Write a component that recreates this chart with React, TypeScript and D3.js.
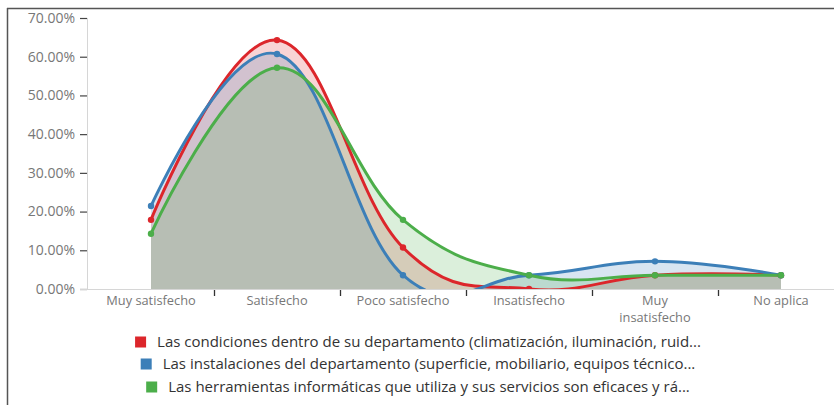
import React, { useLayoutEffect, useRef, useState } from "react";
import * as d3 from "d3";

const categories = [
  "Muy satisfecho",
  "Satisfecho",
  "Poco satisfecho",
  "Insatisfecho",
  "Muy insatisfecho",
  "No aplica",
];
const xTickLines = [
  ["Muy satisfecho"],
  ["Satisfecho"],
  ["Poco satisfecho"],
  ["Insatisfecho"],
  ["Muy", "insatisfecho"],
  ["No aplica"],
];
const yTicks = [0, 0.1, 0.2, 0.3, 0.4, 0.5, 0.6, 0.7];

const seriesNames = [
  "Las condiciones dentro de su departamento (climatización, iluminación, ruid...",
  "Las instalaciones del departamento (superficie, mobiliario, equipos técnico...",
  "Las herramientas informáticas que utiliza y sus servicios son eficaces y rá...",
];
const seriesColors = ["#dc262b", "#3c7fb8", "#4cae4a"];

const redValues = [0.1786, 0.6429, 0.1071, 0.0, 0.0357, 0.0357];
const blueValues = [0.2143, 0.6071, 0.0357, 0.0357, 0.0714, 0.0357];
const greenValues = [0.1429, 0.5714, 0.1786, 0.0357, 0.0357, 0.0357];
const seriesValues = [redValues, blueValues, greenValues];

const FONT = "'Open Sans', sans-serif";

export default function App() {
  const left = 88;
  const right = 844;
  const top = 18;
  const bottom = 289;

  const x = d3.scaleBand<string>().domain(categories).range([left, right]).padding(0);
  const y = d3.scaleLinear().domain([0, 0.7]).range([bottom, top]);
  const cx = (c: string) => (x(c) as number) + x.bandwidth() / 2;
  const fmt = d3.format(".2%");

  const curve = d3.curveCardinal.tension(-0.2);
  const line = d3
    .line<number>()
    .x((_, i) => cx(categories[i]))
    .y((d) => y(d))
    .curve(curve);
  const area = d3
    .area<number>()
    .x((_, i) => cx(categories[i]))
    .y0(y(0))
    .y1((d) => y(d))
    .curve(curve);

  const legendY = [342, 364, 387];
  const legendCenter = 418;
  const textRefs = useRef<(SVGTextElement | null)[]>([]);
  const [widths, setWidths] = useState<number[]>([540, 530, 525]);
  useLayoutEffect(() => {
    const w = textRefs.current.map((el) => (el ? el.getComputedTextLength() : 500));
    setWidths(w);
  }, []);

  return (
    <svg
      width={834}
      height={405}
      style={{ position: "absolute", left: 0, top: 0, fontFamily: FONT }}
    >
      <defs>
        <clipPath id="plotclip">
          <rect x={left} y={top - 10} width={right - left} height={bottom - top + 10} />
        </clipPath>
      </defs>
      <rect x={0} y={0} width={834} height={405} fill="#fff" />
      {/* frame */}
      <line x1={7.5} x2={7.5} y1={8} y2={405} stroke="#555" strokeWidth={1.5} />
      <line x1={7} x2={834} y1={8.5} y2={8.5} stroke="#555" strokeWidth={1.5} />

      {/* y axis */}
      <line x1={87.5} x2={87.5} y1={top} y2={bottom} stroke="#d6d6d6" strokeWidth={1} />
      {yTicks.map((t) => (
        <g key={t}>
          <line x1={80} x2={87} y1={y(t) + 0.5} y2={y(t) + 0.5} stroke="#444" strokeWidth={1.2} />
          <text x={75} y={y(t)} dy="0.35em" textAnchor="end" fontSize={14} fill="#777">
            {fmt(t)}
          </text>
        </g>
      ))}

      {/* areas */}
      <g clipPath="url(#plotclip)">
        {seriesValues.map((vals, i) => (
          <path key={"a" + i} d={area(vals) || ""} fill={seriesColors[i]} fillOpacity={0.2} />
        ))}
        {seriesValues.map((vals, i) => (
          <path
            key={"l" + i}
            d={line(vals) || ""}
            fill="none"
            stroke={seriesColors[i]}
            strokeWidth={3}
          />
        ))}
        {seriesValues.map((vals, i) =>
          vals.map((v, j) => (
            <circle
              key={"p" + i + "-" + j}
              cx={cx(categories[j])}
              cy={y(v)}
              r={3.2}
              fill={seriesColors[i]}
            />
          ))
        )}
      </g>

      {/* x axis */}
      <line x1={80} x2={834} y1={bottom + 0.5} y2={bottom + 0.5} stroke="#d6d6d6" strokeWidth={1} />
      {categories.slice(1).map((c) => (
        <line
          key={"t" + c}
          x1={(x(c) as number) + 0.5}
          x2={(x(c) as number) + 0.5}
          y1={bottom + 1}
          y2={bottom + 7}
          stroke="#333"
          strokeWidth={1.3}
        />
      ))}
      {categories.map((c, i) =>
        xTickLines[i].map((ln, k) => (
          <text
            key={"x" + c + k}
            x={cx(c)}
            y={305 + k * 17}
            textAnchor="middle"
            fontSize={12.8}
            fill="#777"
          >
            {ln}
          </text>
        ))
      )}

      {/* legend */}
      {seriesNames.map((name, i) => {
        const total = widths[i] + 22;
        const sx = legendCenter - total / 2;
        return (
          <g key={"lg" + i}>
            <rect x={sx} y={legendY[i] - 5.5} width={11} height={11} fill={seriesColors[i]} />
            <text
              ref={(el) => {
                textRefs.current[i] = el;
              }}
              x={sx + 22}
              y={legendY[i]}
              dy="0.35em"
              fontSize={15}
              fill="#333"
            >
              {name}
            </text>
          </g>
        );
      })}
    </svg>
  );
}
